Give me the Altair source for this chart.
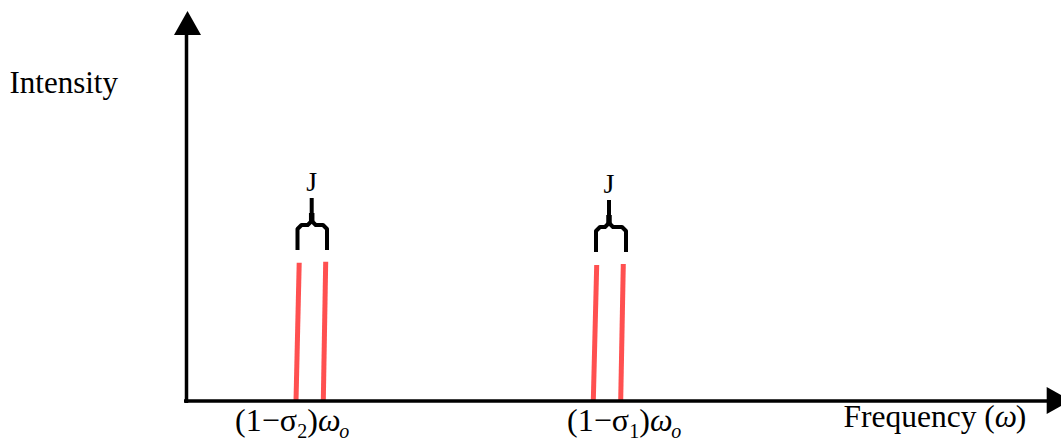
import altair as alt
import pandas as pd

# ---- data (frequency and intensity in arbitrary units; origin = axes crossing) ----
line_f_bottom = [109.5, 136.8, 406.8, 434.2]
line_f_top = [112.7, 139.2, 410.2, 436.8]
line_i_top = [138.3, 139.3, 136.0, 137.0]
line_group = ["σ2", "σ2", "σ1", "σ1"]

brace_left = [111.0, 409.5]
brace_right = [140.5, 439.5]
brace_mid = [125.2, 422.5]
brace_foot = [151.0, 149.0]
brace_bar = [176.0, 174.0]
brace_top = [203.0, 201.0]
brace_text = ["J", "J"]

axis_f_end = 862.0
axis_i_end = 366.0
arrow_up_pos = [1.0, 376.5]
arrow_right_pos = [873.7, 0.5]

peak_label_subscripts = ["2", "1"]
peak_label_start = [48.5, 380.5]
axis_label_y = "Intensity"
axis_label_x = "Frequency ("
axis_label_x_sym = "ω"

X_DOMAIN = [-186.5, 874.5]
Y_DOMAIN = [-37.0, 401.0]
W, H = 1061, 438
SERIF = "Liberation Serif"

xs = alt.Scale(domain=X_DOMAIN, nice=False, zero=False)
ys = alt.Scale(domain=Y_DOMAIN, nice=False, zero=False)


def X(field):
    return alt.X(field, type="quantitative", scale=xs, axis=None)


def Y(field):
    return alt.Y(field, type="quantitative", scale=ys, axis=None)


# red lines
lines_df = pd.DataFrame({
    "f0": line_f_bottom, "f1": line_f_top,
    "i0": [0.0] * 4, "i1": line_i_top, "g": line_group,
})
red = alt.Chart(lines_df).mark_rule(color="#ff5050", strokeWidth=5, strokeCap="butt").encode(
    x=X("f0"), x2="f1", y=Y("i0"), y2="i1"
)

# braces built from leg positions and heights
rows = []
for k in range(len(brace_left)):
    xl, xr, xm = brace_left[k], brace_right[k], brace_mid[k]
    yf, yb, yt = brace_foot[k], brace_bar[k], brace_top[k]
    r = 4.0
    left = [(xl, yf), (xl, yb - r), (xl + r, yb), (xm - r, yb), (xm, yb + r), (xm, yt)]
    right = [(xr, yf), (xr, yb - r), (xr - r, yb), (xm + r, yb), (xm, yb + r)]
    for name, pts in (("L", left), ("R", right)):
        for j, (a, b) in enumerate(pts):
            rows.append({"part": f"{k}{name}", "ord": j, "f": a, "i": b})
brace_df = pd.DataFrame(rows)
braces = alt.Chart(brace_df).mark_line(
    color="black", strokeWidth=4, strokeJoin="round", strokeCap="butt"
).encode(x=X("f"), y=Y("i"), detail="part:N", order="ord:Q")

stem_df = pd.DataFrame({"f": brace_mid, "i0": [b + 4 for b in brace_bar],
                        "i1": [b + 12 for b in brace_bar]})
stems = alt.Chart(stem_df).mark_rule(color="black", strokeWidth=5.5).encode(
    x=X("f"), y=Y("i0"), y2="i1")

j_df = pd.DataFrame({"f": brace_mid, "i": [t + 7 for t in brace_top], "t": brace_text})
j_text = alt.Chart(j_df).mark_text(font=SERIF, fontSize=28, baseline="alphabetic",
                                   align="center", color="black").encode(
    x=X("f"), y=Y("i"), text="t:N")

# axes
axes_df = pd.DataFrame({"f0": [0.0, -2.5], "f1": [0.0, axis_f_end],
                        "i0": [-2.0, 0.0], "i1": [axis_i_end, 0.0]})
axes = alt.Chart(axes_df).mark_rule(color="black", strokeWidth=3.5).encode(
    x=X("f0"), x2="f1", y=Y("i0"), y2="i1")

up_df = pd.DataFrame({"f": [arrow_up_pos[0]], "i": [arrow_up_pos[1]]})
arrow_up = alt.Chart(up_df).mark_point(
    shape="M-1,0.78L0,-1L1,0.78Z", size=729, filled=True, color="black", opacity=1, strokeWidth=0
).encode(x=X("f"), y=Y("i"))
rt_df = pd.DataFrame({"f": [arrow_right_pos[0]], "i": [arrow_right_pos[1]]})
arrow_rt = alt.Chart(rt_df).mark_point(
    shape="M-1,-1L0.78,0L-1,1Z", size=729, filled=True, color="black", opacity=1, strokeWidth=0
).encode(x=X("f"), y=Y("i"))

# text pieces
EM = {"(": 0.333, ")": 0.333, "1": 0.5, "2": 0.5, "−": 0.564, "σ": 0.55, "ω": 0.667, "o": 0.5,
      "F": 0.556, "r": 0.333, "e": 0.444, "q": 0.5, "u": 0.5, "n": 0.5, "c": 0.444, "y": 0.5, " ": 0.25}


def width(s, fs):
    return sum(EM.get(ch, 0.5) for ch in s) * fs


normal_rows, italic_rows = [], []
MAIN, SUB = 32, 20
for k, sub in enumerate(peak_label_subscripts):
    x = peak_label_start[k]
    base = -30.0
    pieces = [("(1−σ", MAIN, 0, False), (sub, SUB, -7, False), (")", MAIN, 0, False),
              ("ω", MAIN, 0, True), ("o", SUB, -7, True)]
    for txt, fs, dy, it in pieces:
        row = {"t": txt, "f": x, "i": base + dy, "fs": fs}
        (italic_rows if it else normal_rows).append(row)
        x += width(txt, fs)

FX = 657.0
FS_X = 31.5
normal_rows.append({"t": axis_label_x, "f": FX, "i": -25.7, "fs": FS_X})
wx = FX + width(axis_label_x, FS_X)
italic_rows.append({"t": axis_label_x_sym, "f": wx, "i": -25.7, "fs": FS_X})
normal_rows.append({"t": ")", "f": wx + width("ω", FS_X), "i": -25.7, "fs": FS_X})
normal_rows.append({"t": axis_label_y, "f": -177.0, "i": 308.3, "fs": 31})

txt_n = alt.Chart(pd.DataFrame(normal_rows)).mark_text(
    font=SERIF, align="left", baseline="alphabetic", color="black").encode(
    x=X("f"), y=Y("i"), text="t:N", size=alt.Size("fs:Q", scale=None, legend=None))
txt_i = alt.Chart(pd.DataFrame(italic_rows)).mark_text(
    font=SERIF, fontStyle="italic", align="left", baseline="alphabetic", color="black").encode(
    x=X("f"), y=Y("i"), text="t:N", size=alt.Size("fs:Q", scale=None, legend=None))

chart = alt.layer(red, braces, stems, j_text, axes, arrow_up, arrow_rt, txt_n, txt_i).properties(
    width=W, height=H, padding=0, autosize=alt.AutoSizeParams(type="none"),
    background="white"
).configure_view(stroke=None)

chart.save("out.html", embed_options={
    "renderer": "svg", "actions": False,
    "defaultStyle": "body{margin:0;overflow:hidden} .vega-embed{display:block}",
})
